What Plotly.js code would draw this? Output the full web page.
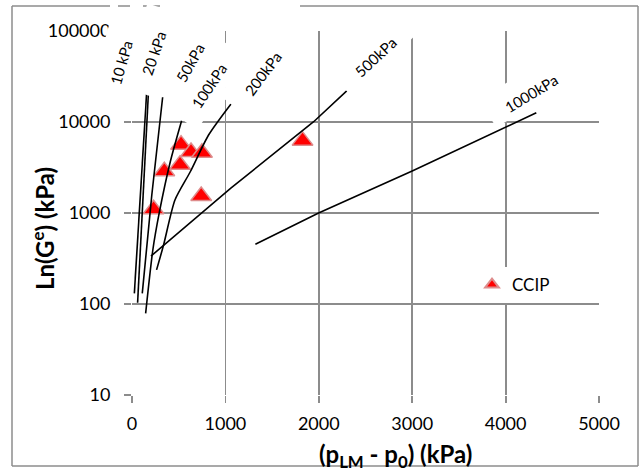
<!DOCTYPE html>
<html>
<head>
<meta charset="utf-8">
<script src="https://cdn.plot.ly/plotly-3.0.1.min.js"></script>
<style>
  html, body { margin: 0; padding: 0; background: #ffffff; }
  #chart { width: 643px; height: 471px; }
</style>
</head>
<body>
<div id="chart"></div>
<script>
// Measured pressuremeter points (CCIP): net limit pressure vs elastic shear modulus, kPa
const ccipX = [525, 632, 749, 514, 346, 741, 231, 1826];
const ccipY = [5640, 4680, 4600, 3390, 2870, 1540, 1100, 6240];

// Theoretical curves, one per confining stress level
const curveNames = ['10 kPa', '20 kPa', '50kPa', '100kPa', '200kPa', '500kPa', '1000kPa'];
const curve10X = [25, 90, 156];
const curve10Y = [131, 1640, 20300];
const curve20X = [60, 117, 175];
const curve20Y = [103, 1449, 20300];
const curve50X = [110, 212, 328];
const curve50Y = [131, 1578, 18700];
const curve100X = [146, 223, 292, 410, 531];
const curve100Y = [79, 392, 1007, 3660, 10330];
const curve200X = [263, 338, 460, 624, 820, 1060];
const curve200Y = [237, 445, 1390, 2840, 7200, 15800];
const curve500X = [203, 1055, 1945, 2302];
const curve500Y = [336, 1866, 10070, 22100];
const curve1000X = [1321, 1998, 3000, 4000, 4329];
const curve1000Y = [453, 1000, 2895, 8870, 12650];

// Axis ticks
const xTicks = [0, 1000, 2000, 3000, 4000, 5000];
const yTicks = [10, 100, 1000, 10000, 100000];
const yTickText = ['10', '100', '1000', '10000', '100000'];

const curveX = [curve10X, curve20X, curve50X, curve100X, curve200X, curve500X, curve1000X];
const curveY = [curve10Y, curve20Y, curve50Y, curve100Y, curve200Y, curve500Y, curve1000Y];

const GRID = '#8c8c8c';
const FONT = 'Lato, "Open Sans", "Liberation Sans", sans-serif';

// Plot-area geometry (pixels) used to place the decorative frame and label boxes
const W = 643, H = 471;
const M = { l: 132, r: 44, t: 31, b: 76 };
const plotW = W - M.l - M.r, plotH = H - M.t - M.b;
const toPaperX = function (px) { return (px - M.l) / plotW; };
const toPaperY = function (py) { return (H - M.b - py) / plotH; };

const traces = [{
  type: 'scatter',
  mode: 'markers',
  name: 'CCIP',
  x: ccipX,
  y: ccipY,
  marker: {
    symbol: 'triangle-up',
    size: 18,
    color: '#ff0000',
    line: { color: 'rgb(222,140,140)', width: 1.5 }
  },
  showlegend: true
}];

curveNames.forEach(function (name, i) {
  traces.push({
    type: 'scatter',
    mode: 'lines',
    name: name,
    x: curveX[i],
    y: curveY[i],
    line: { color: '#000000', width: 1.6, shape: (i === 3 || i === 4) ? 'spline' : 'linear', smoothing: 0.7 },
    showlegend: false,
    hoverinfo: 'skip'
  });
});

// Rotated curve labels: text centre (px), angle, and extents of the white backing box
const labelLayout = [
  { cx: 121,   cy: 63,   angle: -74, a1: 45, a2: 45, b1: 22, b2: 11 },
  { cx: 153.7, cy: 53,   angle: -71, a1: 42, a2: 45, b1: 22, b2: 11 },
  { cx: 190,   cy: 63.3, angle: -61, a1: 42, a2: 46, b1: 25, b2: 15 },
  { cx: 208.8, cy: 85.8, angle: -56, a1: 43, a2: 45, b1: 22, b2: 15 },
  { cx: 263.3, cy: 73.3, angle: -53, a1: 44, a2: 50, b1: 22, b2: 11 },
  { cx: 375.5, cy: 57.5, angle: -43, a1: 44, a2: 50, b1: 22, b2: 11 },
  { cx: 531.7, cy: 93.3, angle: -31, a1: 48, a2: 48, b1: 22, b2: 11 }
];

const shapes = [];
const annotations = [];

labelLayout.forEach(function (L, i) {
  const t = L.angle * Math.PI / 180;
  const u = [Math.cos(t), Math.sin(t)];
  const v = [-Math.sin(t), Math.cos(t)];
  const corners = [[-L.a1, -L.b1], [L.a2, -L.b1], [L.a2, L.b2], [-L.a1, L.b2]].map(function (c) {
    const px = L.cx + c[0] * u[0] + c[1] * v[0];
    const py = L.cy + c[0] * u[1] + c[1] * v[1];
    return toPaperX(px).toFixed(5) + ',' + toPaperY(py).toFixed(5);
  });
  shapes.push({
    type: 'path',
    xref: 'paper', yref: 'paper',
    path: 'M' + corners.join(' L') + ' Z',
    fillcolor: '#ffffff',
    line: { width: 0 },
    layer: 'above'
  });
  annotations.push({
    text: curveNames[i],
    xref: 'paper', yref: 'paper',
    x: toPaperX(L.cx), y: toPaperY(L.cy),
    xanchor: 'center', yanchor: 'middle',
    textangle: L.angle,
    showarrow: false,
    font: { family: FONT, size: 15, color: '#000000' }
  });
});

// Axis titles
annotations.push({
  text: '<b>Ln(G<sup>e</sup>) (kPa)</b>',
  xref: 'paper', yref: 'paper',
  x: toPaperX(43), y: toPaperY(229),
  xanchor: 'center', yanchor: 'middle',
  textangle: -90,
  showarrow: false,
  font: { family: FONT, size: 24, color: '#000000' }
});
annotations.push({
  text: '<b>(p<sub>LM</sub> - p<sub>0</sub>) (kPa)</b>',
  xref: 'paper', yref: 'paper',
  x: toPaperX(395), y: toPaperY(455),
  xanchor: 'center', yanchor: 'middle',
  showarrow: false,
  font: { family: FONT, size: 24, color: '#000000' }
});

// Outer chart frame (top edge interrupted behind the label area)
const frameLine = { color: GRID, width: 1.5 };
const fL = toPaperX(12), fR = toPaperX(638), fT = toPaperY(6), fB = toPaperY(466);
[
  [fL, fB, fL, fT],
  [fR, fB, fR, fT],
  [fL, fB, fR, fB],
  [fL, fT, toPaperX(110), fT],
  [toPaperX(118), fT, toPaperX(130), fT],
  [toPaperX(143), fT, toPaperX(160), fT],
  [toPaperX(300), fT, fR, fT]
].forEach(function (s) {
  shapes.push({ type: 'line', xref: 'paper', yref: 'paper', x0: s[0], y0: s[1], x1: s[2], y1: s[3], line: frameLine, layer: 'below' });
});

const layout = {
  width: W,
  height: H,
  margin: { l: M.l, r: M.r, t: M.t, b: M.b, pad: 0 },
  paper_bgcolor: '#ffffff',
  plot_bgcolor: '#ffffff',
  showlegend: true,
  legend: {
    x: toPaperX(472), y: toPaperY(285),
    xanchor: 'left', yanchor: 'middle',
    bgcolor: '#ffffff',
    borderwidth: 0,
    itemsizing: 'constant',
    font: { family: FONT, size: 17, color: '#000000' }
  },
  xaxis: {
    range: [0, 5000],
    tickvals: xTicks,
    ticktext: xTicks.map(String),
    showgrid: true,
    gridcolor: GRID,
    gridwidth: 1.8,
    zeroline: false,
    showline: false,
    ticks: 'outside',
    ticklen: 7,
    tickwidth: 1.8,
    tickcolor: GRID,
    ticklabelstandoff: 5,
    tickfont: { family: FONT, size: 18, color: '#000000' },
    fixedrange: true
  },
  yaxis: {
    type: 'log',
    range: [1, 5],
    tickvals: yTicks,
    ticktext: yTickText,
    showgrid: true,
    gridcolor: GRID,
    gridwidth: 1.8,
    zeroline: false,
    showline: false,
    ticks: 'outside',
    ticklen: 7,
    tickwidth: 1.8,
    tickcolor: GRID,
    ticklabelstandoff: 10,
    tickfont: { family: FONT, size: 18, color: '#000000' },
    fixedrange: true
  },
  annotations: annotations,
  shapes: shapes
};

Plotly.newPlot('chart', traces, layout, { staticPlot: true, displayModeBar: false });
</script>
</body>
</html>
